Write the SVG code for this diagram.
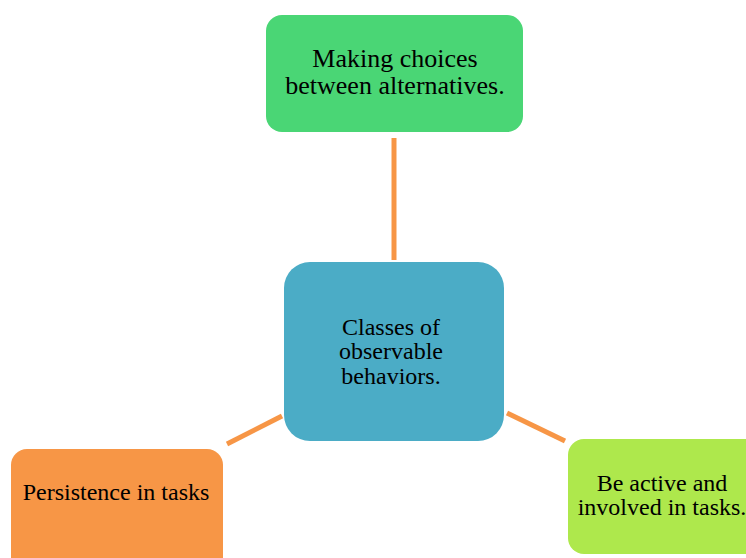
<svg xmlns="http://www.w3.org/2000/svg" width="746" height="558" viewBox="0 0 746 558">
  <style>
    .lbl { font-family: "Liberation Serif", "Times New Roman", serif; font-size: 24px; fill: #000; text-anchor: middle; }
    .big { font-size: 26px; }
    .link { stroke: #F79646; stroke-width: 5; fill: none; }
  </style>
  <rect width="746" height="558" fill="#fff"/>

  <g id="connectors">
    <line class="link" x1="394" y1="138" x2="394" y2="260"/>
    <line class="link" x1="227" y1="444" x2="282" y2="416"/>
    <line class="link" x1="507" y1="413" x2="565" y2="441"/>
  </g>

  <g id="node-choices">
    <rect x="266" y="15" width="257" height="117" rx="16" fill="#4AD675"/>
    <text class="lbl big" x="395" y="67">Making choices</text>
    <text class="lbl big" x="395" y="94">between alternatives.</text>
  </g>

  <g id="node-center">
    <rect x="284" y="262" width="220" height="179" rx="26" fill="#4BACC6"/>
    <text class="lbl" x="391" y="335">Classes of</text>
    <text class="lbl" x="391" y="359">observable</text>
    <text class="lbl" x="391" y="384">behaviors.</text>
  </g>

  <g id="node-persistence">
    <rect x="11" y="449" width="212" height="130" rx="16" fill="#F79646"/>
    <text class="lbl" x="116" y="500">Persistence in tasks</text>
  </g>

  <g id="node-active">
    <rect x="568" y="439" width="195" height="115" rx="16" fill="#AEE84C"/>
    <text class="lbl" x="662" y="491">Be active and</text>
    <text class="lbl" x="662" y="515">involved in tasks.</text>
  </g>
</svg>
